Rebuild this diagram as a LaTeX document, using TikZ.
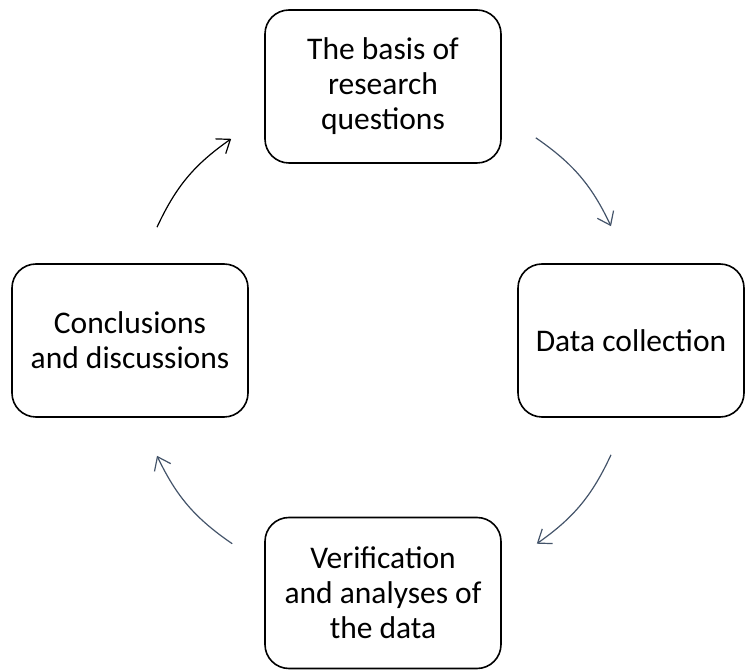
\documentclass[tikz,border=0pt]{standalone}
\usepackage{fontspec}
\setmainfont{Carlito}
\usetikzlibrary{arrows.meta}
\definecolor{slate}{HTML}{44546A}
\begin{document}
\begin{tikzpicture}[x=1pt,y=1pt,
    stage/.style={draw,line width=1.6pt,rounded corners=24pt,align=center,
      inner sep=0pt,minimum width=236pt,minimum height=153pt,
      font=\fontsize{31.5}{35}\selectfont},
    flow/.style={line width=1.2pt,slate,-{Straight Barb[length=12pt,width=18pt,line width=1.2pt]}}]
    \useasboundingbox (0,0) rectangle (745,670);

    \node[stage] (basis) at (383,583.5) {The basis of\\research\\questions};
    \node[stage,minimum width=226pt] (collect) at (631,329.5) {Data collection};
    \node[stage,minimum height=151pt] (verify) at (383,77) {Verification\\and analyses of\\the data};
    \node[stage] (concl) at (130,329.5) {Conclusions\\and discussions};

    \draw[flow] ([xshift=34pt,yshift=26pt]basis.south east) to[bend left=15] ([xshift=-20pt,yshift=37pt]collect.north);
    \draw[flow] ([xshift=-20pt,yshift=-37pt]collect.south) to[bend left=15] ([xshift=35pt,yshift=-27pt]verify.north east);
    \draw[flow] ([xshift=-32pt,yshift=-27pt]verify.north west) to[bend left=15] ([xshift=27pt,yshift=-38pt]concl.south);
    \draw[flow,black] ([xshift=27pt,yshift=36pt]concl.north) to[bend left=15] ([xshift=-33pt,yshift=25pt]basis.south west);
\end{tikzpicture}
\end{document}
